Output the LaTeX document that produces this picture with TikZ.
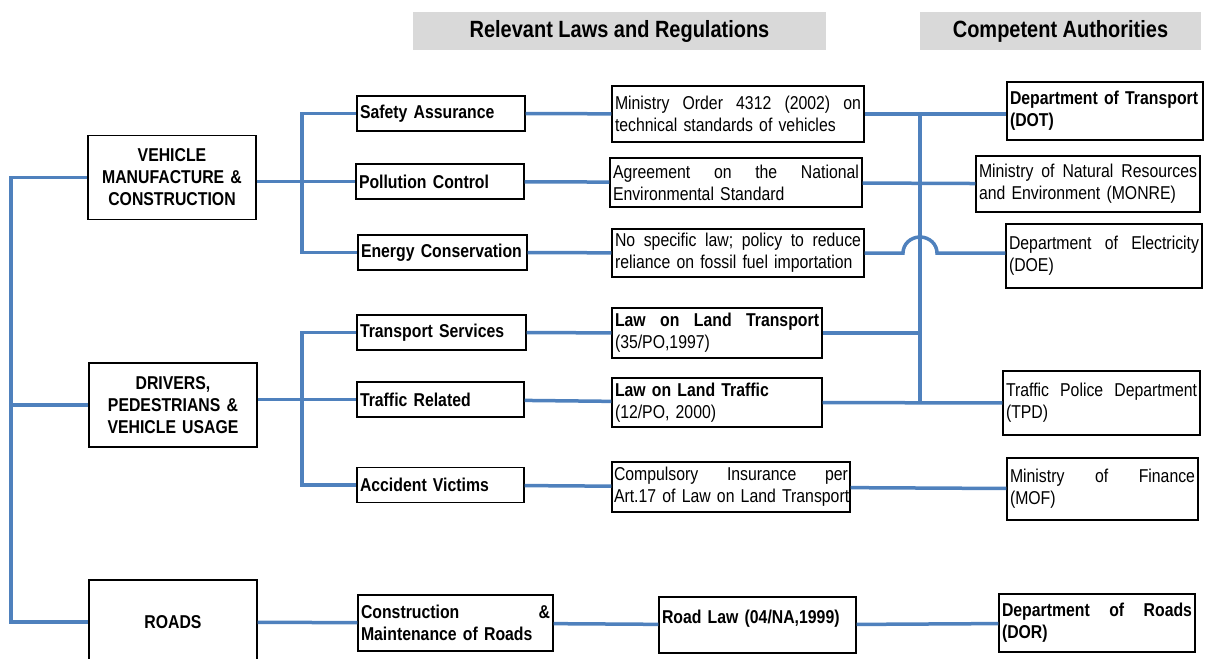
\documentclass[tikz,border=0pt]{standalone}
\usepackage{fontspec}
\setmainfont{Liberation Sans}[FakeStretch=0.85]
\usepackage{tikz}
\usepackage{xcolor}
\definecolor{linkblue}{RGB}{79, 129, 189}
\definecolor{headgray}{RGB}{217, 217, 217}
\newcommand{\chartfont}{\fontsize{18.6}{22}\selectfont}
% one line spread over the full width (words split by \hfill)
\newcommand{\spreadline}[2]{\hbox to #1{#2}}

\begin{document}
\begin{tikzpicture}[
    x=1pt, y=-1pt,
    font=\chartfont,
    box/.style={draw, line width=1.4pt, rectangle, inner xsep=3pt, inner ysep=0pt, align=left},
    cat/.style={box, font=\chartfont\bfseries, text width=162pt, minimum height=84pt, align=center},
    topic/.style={box, font=\chartfont\bfseries, text width=162pt, minimum height=35pt},
    law/.style={box, text width=246pt, minimum height=50pt},
    auth/.style={box, text width=190pt, minimum height=60pt},
    head/.style={fill=headgray, font=\fontsize{23.5}{26}\selectfont\bfseries, minimum height=38pt, inner sep=0pt},
    link/.style={draw=linkblue, line width=3.5pt},
  ]
    \useasboundingbox (0,0) rectangle (1211,659);

    % Column headers
    \node[head, minimum width=413pt] (hdlaw) at (619.5,31) {Relevant Laws and Regulations};
    \node[head, minimum width=281pt] (hdauth) at (1060.5,31) {Competent Authorities};

    % Areas (left)
    \node[cat] (veh) at (172,177.5) {VEHICLE\\ MANUFACTURE \&\\ CONSTRUCTION};
    \node[cat] (drv) at (173,405) {DRIVERS,\\ PEDESTRIANS \&\\ VEHICLE USAGE};
    \node[cat] (rds) at (173,622) {ROADS};

    % Topics
    \node[topic] (safe) at (441,113.5) {Safety Assurance};
    \node[topic] (poll) at (440,181.5) {Pollution Control};
    \node[topic, text width=163pt] (enrg) at (442.5,252.5) {Energy Conservation};
    \node[topic, text width=163pt] (tran) at (441.5,332.5) {Transport Services};
    \node[topic, text width=161pt] (traf) at (440.5,399.5) {Traffic Related};
    \node[topic, text width=161pt] (acc) at (440.5,485) {Accident Victims};
    \node[topic, text width=189pt, minimum height=56pt] (cons) at (455.5,623)
      {\spreadline{189pt}{Construction\hfill \&}\\ Maintenance of Roads};

    % Laws and regulations
    \node[law, minimum height=56pt] (mo) at (738,114)
      {\spreadline{246pt}{Ministry\hfill Order\hfill 4312\hfill (2002)\hfill on}\\
       technical standards of vehicles};
    \node[law, minimum height=49pt] (agr) at (736,182.5)
      {\spreadline{246pt}{Agreement\hfill on\hfill the\hfill National}\\ Environmental Standard};
    \node[law, minimum height=48pt] (nsl) at (738,253)
      {\spreadline{246pt}{No\hfill specific\hfill law;\hfill policy\hfill to\hfill reduce}\\
       reliance on fossil fuel importation};
    \node[law, text width=204pt] (llt) at (717,333)
      {\textbf{\spreadline{204pt}{Law\hfill on\hfill Land\hfill Transport}}\\ (35/PO,1997)};
    \node[law, text width=204pt, minimum height=49pt] (ltr) at (717,402.5)
      {\textbf{Law on Land Traffic}\\ (12/PO, 2000)};
    \node[law, inner xsep=2pt, text width=234pt] (ins) at (731,487)
      {\spreadline{234pt}{Compulsory\hfill Insurance\hfill per}\\
       \mbox{Art.17 of Law on Land Transport}};
    \node[law, text width=191pt, minimum height=56pt, text height=14pt, text depth=18pt] (rdl) at (757.5,625)
      {\textbf{Road Law (04/NA,1999)}};

    % Competent authorities
    \node[auth, minimum height=58pt] (dot) at (1105,111)
      {\textbf{Department of Transport}\\ \textbf{(DOT)}};
    \node[auth, text width=218pt, minimum height=56pt] (monre) at (1088,184)
      {\spreadline{218pt}{Ministry\hfill of\hfill Natural\hfill Resources}\\ and Environment (MONRE)};
    \node[auth, minimum height=64pt] (doe) at (1104,256)
      {\spreadline{190pt}{Department\hfill of\hfill Electricity}\\ (DOE)};
    \node[auth, text width=191pt, minimum height=64pt] (tpd) at (1101.5,403)
      {\spreadline{191pt}{Traffic\hfill Police\hfill Department}\\ (TPD)};
    \node[auth, text width=185pt, minimum height=62pt] (mof) at (1102.5,489)
      {\spreadline{185pt}{Ministry\hfill of\hfill Finance}\\ (MOF)};
    \node[auth, minimum height=58pt] (dor) at (1097,623)
      {\textbf{\spreadline{190pt}{Department\hfill of\hfill Roads}}\\ \textbf{(DOR)}};

    % Bus lines
    \coordinate (spine) at (11,0);
    \coordinate (fork1) at (302,0);
    \coordinate (fork2) at (920,0);
    \coordinate (hop) at (fork2 |- nsl.east);

    \draw[link] (veh.west) -- (veh.west -| spine) |- (rds.west);
    \draw[link] (drv.west) -- (drv.west -| spine);

    \draw[link] (veh.east |- poll.west) -- (poll.west);
    \draw[link] (safe.west) -- (safe.west -| fork1) |- (enrg.west);
    \draw[link] (drv.east |- traf.west) -- (traf.west);
    \draw[link] (tran.west) -- (tran.west -| fork1) |- (acc.west);

    \draw[link] (safe) -- (mo);
    \draw[link] (poll) -- (agr);
    \draw[link] (enrg) -- (nsl);
    \draw[link] (tran) -- (llt);
    \draw[link] (traf) -- (ltr);
    \draw[link] (acc) -- (ins);
    \draw[link] (rds) -- (cons);
    \draw[link] (cons) -- (rdl);

    % Laws to authorities
    \draw[link] (mo.east -| fork2) -- (ltr.east -| fork2);
    \draw[link] (mo.east) -- (mo.east -| dot.west);
    \draw[link] (agr) -- (monre);
    \draw[link] (nsl.east) -- ([xshift=-17pt]hop)
      arc[start angle=180, end angle=0, x radius=17pt, y radius=16pt] -- (hop -| doe.west);
    \draw[link] (llt.east) -- (llt.east -| fork2);
    \draw[link] (ltr) -- (tpd);
    \draw[link] (ins) -- (mof);
    \draw[link] (rdl) -- (dor);
  \end{tikzpicture}
\end{document}
